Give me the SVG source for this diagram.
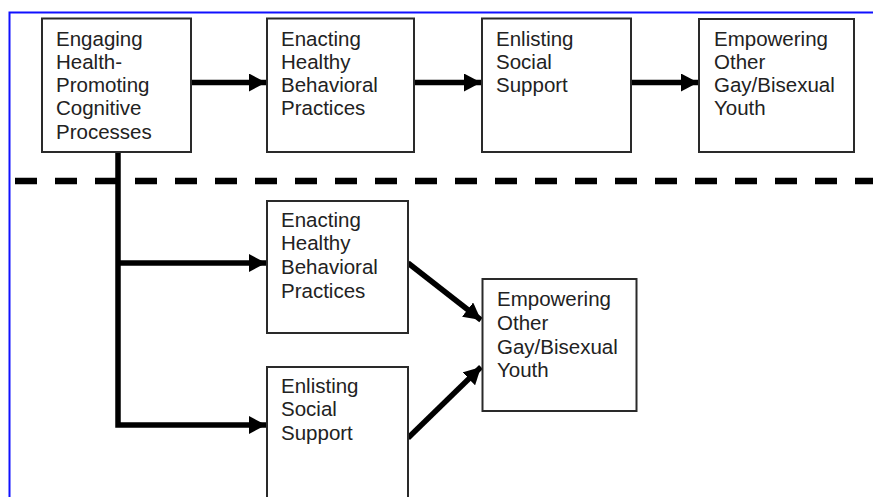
<svg xmlns="http://www.w3.org/2000/svg" width="873" height="497" viewBox="0 0 873 497">
<defs>
<marker id="ah" markerUnits="userSpaceOnUse" markerWidth="18" markerHeight="18" refX="17" refY="9" orient="auto">
<path d="M0,0 L17,9 L0,18 z" fill="#000"/>
</marker>
<style>
.box{fill:#fff;stroke:#2a2a2a;stroke-width:2}
.t{font-family:"Liberation Sans",Arial,sans-serif;font-size:20.5px;fill:#222}
.c{fill:none;stroke:#000;stroke-width:5.5}
</style>
</defs>
<rect width="873" height="497" fill="#fff"/>
<path d="M9.5,497 V12.5 H873" fill="none" stroke="#1010ff" stroke-width="2"/>
<line x1="15" y1="181" x2="873" y2="181" stroke="#000" stroke-width="6.5" stroke-dasharray="22 18"/>
<g id="connectors">
<line class="c" x1="191" y1="82.5" x2="266" y2="82.5" marker-end="url(#ah)"/>
<line class="c" x1="414" y1="82.5" x2="481" y2="82.5" marker-end="url(#ah)"/>
<line class="c" x1="631" y1="82.5" x2="698" y2="82.5" marker-end="url(#ah)"/>
<path class="c" d="M118,152 V425 H266" marker-end="url(#ah)"/>
<line class="c" x1="118" y1="263" x2="266" y2="263" marker-end="url(#ah)"/>
<line class="c" x1="408" y1="263" x2="481" y2="320" marker-end="url(#ah)"/>
<line class="c" x1="408" y1="438" x2="481" y2="367" marker-end="url(#ah)"/>
</g>
<g id="n1">
<rect class="box" x="42" y="18.5" width="149" height="133.5"/>
<text class="t" x="56" y="45.5">Engaging<tspan x="56" dy="23.3">Health-</tspan><tspan x="56" dy="23.3">Promoting</tspan><tspan x="56" dy="23.3">Cognitive</tspan><tspan x="56" dy="23.3">Processes</tspan></text>
</g>
<g id="n2">
<rect class="box" x="267" y="18.5" width="147" height="133.5"/>
<text class="t" x="281" y="45.5">Enacting<tspan x="281" dy="23.3">Healthy</tspan><tspan x="281" dy="23.3">Behavioral</tspan><tspan x="281" dy="23.3">Practices</tspan></text>
</g>
<g id="n3">
<rect class="box" x="482" y="18.5" width="149" height="133.5"/>
<text class="t" x="496" y="45.5">Enlisting<tspan x="496" dy="23.3">Social</tspan><tspan x="496" dy="23.3">Support</tspan></text>
</g>
<g id="n4">
<rect class="box" x="699" y="19" width="155" height="133"/>
<text class="t" x="714" y="45.5">Empowering<tspan x="714" dy="23.3">Other</tspan><tspan x="714" dy="23.3">Gay/Bisexual</tspan><tspan x="714" dy="23.3">Youth</tspan></text>
</g>
<g id="n5">
<rect class="box" x="267" y="201" width="141" height="132"/>
<text class="t" x="281" y="226.5">Enacting<tspan x="281" dy="23.8">Healthy</tspan><tspan x="281" dy="23.8">Behavioral</tspan><tspan x="281" dy="23.8">Practices</tspan></text>
</g>
<g id="n6">
<rect class="box" x="267" y="367" width="141" height="140"/>
<text class="t" x="281" y="392.5">Enlisting<tspan x="281" dy="23.8">Social</tspan><tspan x="281" dy="23.8">Support</tspan></text>
</g>
<g id="n7">
<rect class="box" x="482.5" y="279" width="154" height="132"/>
<text class="t" x="497" y="306">Empowering<tspan x="497" dy="23.8">Other</tspan><tspan x="497" dy="23.8">Gay/Bisexual</tspan><tspan x="497" dy="23.8">Youth</tspan></text>
</g>
</svg>
